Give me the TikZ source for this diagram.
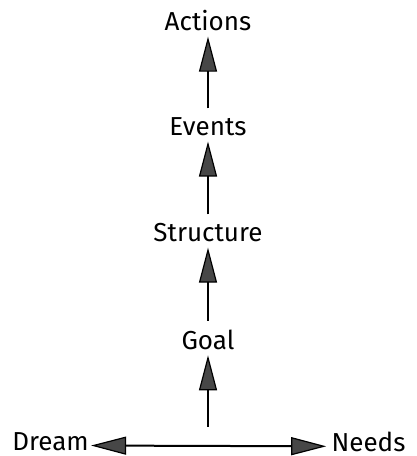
\documentclass[tikz,border=0pt]{standalone}
\usepackage{fontspec}
\setmainfont{Fira Sans}
\usetikzlibrary{positioning, arrows.meta}
\tikzset{
  lbl/.style={inner sep=0pt, font=\fontsize{13}{15}\selectfont},
  link/.style={->, line width=1pt, shorten <=4.5pt, shorten >=2.5pt},
}
\begin{document}
\begin{tikzpicture}[>={Triangle[length=17.5pt, width=9pt, line width=0.6pt, fill=black!72]}, node distance=53pt, on grid]
  \useasboundingbox (0,0) rectangle (208.5pt,-228pt);
  \node[lbl] (goal) at (104pt,-170pt) {Goal};
  \node[lbl, above=53.5pt of goal] (struct) {Structure};
  \node[lbl, above=of struct] (events) {Events};
  \node[lbl, above=of events] (actions) {Actions};
  \node[lbl, below left=51pt and 78.75pt of goal] (dream) {Dream};
  \node[lbl, below right=51pt and 80.25pt of goal] (needs) {Needs};
  \coordinate (hub) at (goal |- dream.mid east);
  \draw[link] (goal) -- (struct); \draw[link] (struct) -- (events); \draw[link] (events) -- (actions);
  \draw[link, shorten <=9.5pt] (hub) -- (goal);
  \draw[<->, line width=1pt, shorten <=1pt, shorten >=2.5pt] (dream.mid east) -- (needs.mid west);
\end{tikzpicture}
\end{document}
